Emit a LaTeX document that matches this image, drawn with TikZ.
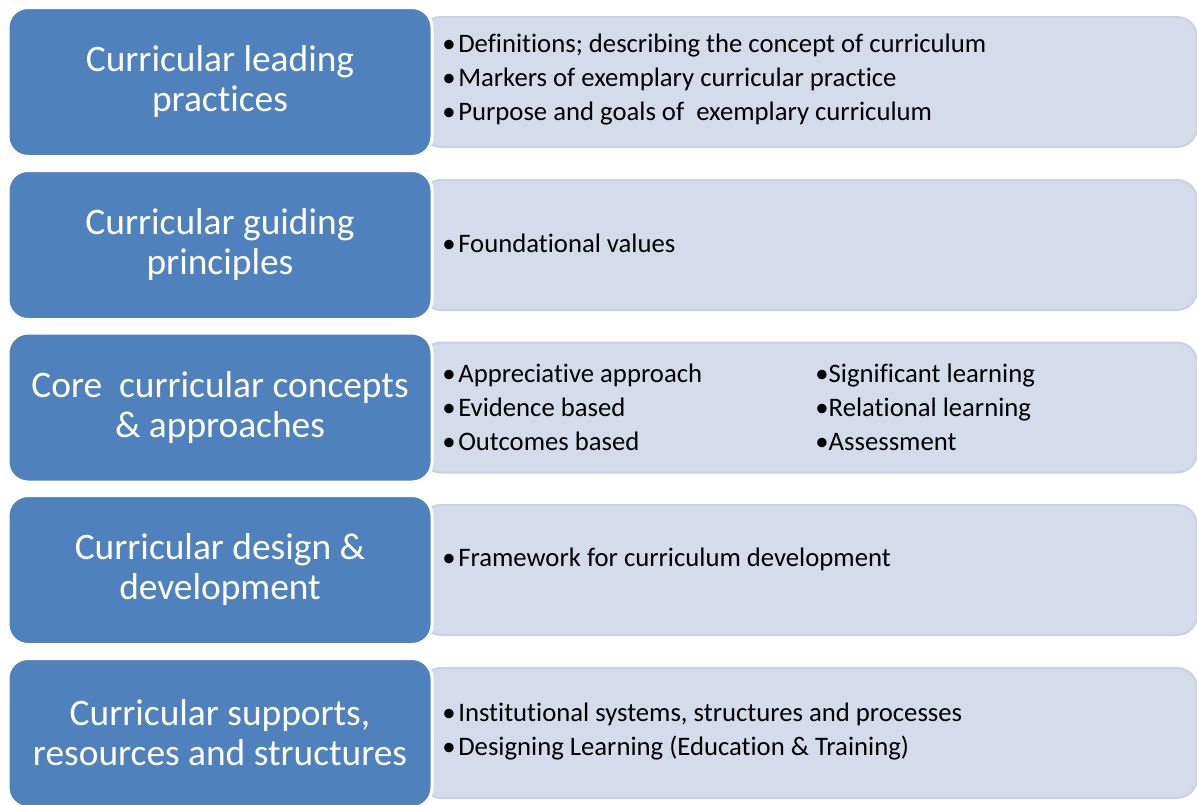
\documentclass[tikz,border=0pt]{standalone}
\usepackage{fontspec}
\setmainfont{Carlito}[Ligatures=CommonOff]
\definecolor{boxblue}{HTML}{4F81BD}
\definecolor{boxlight}{HTML}{D4DBEA}
\definecolor{boxedge}{HTML}{C8D1E5}
\newcommand{\itemdot}{•\kern1.3pt}
\begin{document}
\begin{tikzpicture}[x=0.5pt,y=-0.5pt,
  bluebox/.style={fill=boxblue, draw=white, line width=1.5pt, rounded corners=10pt,
    minimum width=212pt, minimum height=74.5pt, text=white, align=center,
    font=\fontsize{18.7}{20}\selectfont, inner sep=0pt},
  lightbox/.style={fill=boxlight, draw=boxedge, line width=1pt, rounded corners=10pt,
    minimum width=388pt, minimum height=65pt, anchor=west, inner sep=0pt},
  items/.style={anchor=west, align=left, font=\fontsize{13.35}{17}\selectfont,
    inner sep=0pt, text=black}]
\useasboundingbox (0,0) rectangle (1197,804);
% light panels
\node[lightbox] (l1) at (420,82) {};
\node[lightbox] (l2) at (420,245) {};
\node[lightbox] (l3) at (420,407.5) {};
\node[lightbox] (l4) at (420,570) {};
\node[lightbox] (l5) at (420,733) {};
% blue boxes
\node[bluebox] (b1) at (220,82) {Curricular leading\\practices};
\node[bluebox] (b2) at (220,245) {Curricular guiding\\principles};
\node[bluebox] (b3) at (220,407.5) {Core\ \ curricular concepts\\\& approaches};
\node[bluebox] (b4) at (220,570) {Curricular design \&\\development};
\node[bluebox] (b5) at (220,733) {Curricular supports,\\resources and structures};
% items
\node[items] (t1) at (442,80) {\itemdot Definitions; describing the concept of curriculum\\\itemdot Markers of exemplary curricular practice\\\itemdot Purpose and goals of\ \ exemplary curriculum};
\node[items] (t2) at (442,243) {\itemdot Foundational values};
\node[items] (t3a) at (442,407) {\itemdot Appreciative approach\\\itemdot Evidence based\\\itemdot Outcomes based};
\node[items] (t3b) at (815,407) {•Significant learning\\•Relational learning\\•Assessment};
\node[items] (t4) at (442,559) {\itemdot Framework for curriculum development};
\node[items] (t5) at (442,732) {\itemdot Institutional systems, structures and processes\\\itemdot Designing Learning (Education \& Training)};
\end{tikzpicture}
\end{document}
